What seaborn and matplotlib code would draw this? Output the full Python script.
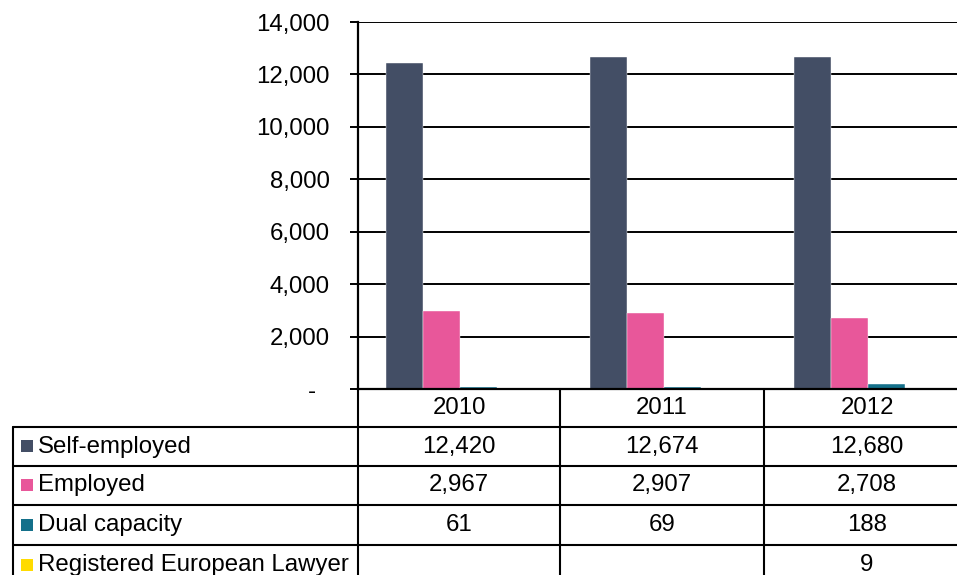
import numpy as np
import pandas as pd
import seaborn as sns
import matplotlib.pyplot as plt
from matplotlib.patches import Rectangle
from matplotlib.ticker import FuncFormatter

# data
years = ['2010', '2011', '2012']
series = ['Self-employed', 'Employed', 'Dual capacity', 'Registered European Lawyer']
self_employed = [12420, 12674, 12680]
employed = [2967, 2907, 2708]
dual_capacity = [61, 69, 188]
registered_european_lawyer = [np.nan, np.nan, 9]
colors = ['#434e65', '#e8579a', '#14708a', '#ffdb00']

all_values = [self_employed, employed, dual_capacity, registered_european_lawyer]
rows = []
for name, vals in zip(series, all_values):
    for yr, v in zip(years, vals):
        rows.append({'year': yr, 'series': name, 'value': v})
df = pd.DataFrame(rows)

sns.set_theme(style='white')
plt.rcParams['font.family'] = ['Liberation Sans', 'DejaVu Sans']
fs = 17.3

W, H = 957, 575
fig = plt.figure(figsize=(W / 100, H / 100), dpi=100)

# plot area (right edge runs past the image, as in the original)
ax = fig.add_axes([358 / W, 1 - 389 / H, 612 / W, 367 / H])
sns.barplot(data=df, x='year', y='value', hue='series', hue_order=series,
            palette=colors, saturation=1, width=0.73, gap=0, errorbar=None,
            legend=False, edgecolor='white', linewidth=0.3, ax=ax)

ax.set_ylim(0, 14000)
ax.set_yticks(range(0, 14001, 2000))
ax.yaxis.set_major_formatter(FuncFormatter(lambda v, p: '-  ' if v == 0 else f'{int(v):,}'))
ax.yaxis.grid(True, color='black', lw=1.4)
ax.set_axisbelow(True)
ax.tick_params(axis='y', left=True, length=6, width=1.4, pad=14.5,
               labelsize=fs, colors='black')
ax.tick_params(axis='x', bottom=False, labelbottom=False)
ax.set_xlabel('')
ax.set_ylabel('')
for side in ['top', 'right']:
    ax.spines[side].set_visible(False)
for side in ['left', 'bottom']:
    ax.spines[side].set_color('black')
    ax.spines[side].set_linewidth(1.6)

# data table under the plot, in pixel coordinates
tab = fig.add_axes([0, 0, 1, 1])
tab.set_xlim(0, W)
tab.set_ylim(H, 0)
tab.axis('off')

col_edges = [358, 560, 764, 970]
row_edges = [389, 427, 466, 505, 545, 585]
lw = 1.5
for x in col_edges:
    tab.plot([x, x], [row_edges[0], row_edges[-1]], color='black', lw=lw)
tab.plot([13, 13], [row_edges[1], row_edges[-1]], color='black', lw=lw)
for y in row_edges[1:]:
    tab.plot([13, col_edges[-1]], [y, y], color='black', lw=lw)

col_mid = [(a + b) / 2 for a, b in zip(col_edges[:-1], col_edges[1:])]
row_mid = [(a + b) / 2 for a, b in zip(row_edges[:-1], row_edges[1:])]

for xm, yr in zip(col_mid, years):
    tab.text(xm, row_mid[0], yr, ha='center', va='center', fontsize=fs, color='black')

for i, (name, vals, c) in enumerate(zip(series, all_values, colors)):
    ym = row_mid[i + 1]
    tab.add_patch(Rectangle((21, ym - 6.5), 12, 12, color=c, lw=0))
    tab.text(38, ym, name, ha='left', va='center', fontsize=fs, color='black')
    for xm, v in zip(col_mid, vals):
        if not np.isnan(v):
            tab.text(xm, ym, f'{int(v):,}', ha='center', va='center',
                     fontsize=fs, color='black')

fig.savefig('out.png', dpi=100)
